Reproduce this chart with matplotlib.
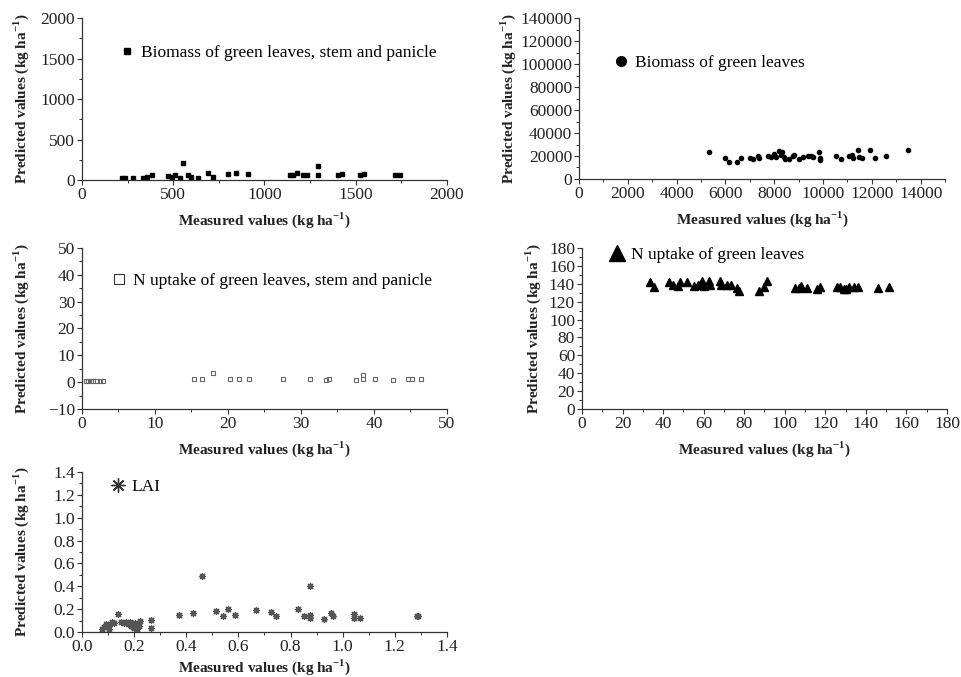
import matplotlib.pyplot as plt
from matplotlib.lines import Line2D
from matplotlib.ticker import MultipleLocator

plt.rcParams['font.family'] = ['Liberation Serif', 'DejaVu Serif']
plt.rcParams['mathtext.fontset'] = 'custom'
plt.rcParams['mathtext.rm'] = 'Liberation Serif'
plt.rcParams['mathtext.bf'] = 'Liberation Serif:bold'

# biomass of green leaves, stem and panicle
bio_all_x = [217, 235, 281, 336, 354, 381, 473, 491, 509, 537, 555, 582, 600, 637, 691, 719,
             802, 844, 911, 1140, 1157, 1180, 1209, 1231, 1291, 1295, 1405, 1423, 1523, 1547, 1715, 1742]
bio_all_y = [29, 29, 21, 29, 41, 58, 50, 41, 58, 29, 206, 66, 41, 29, 82, 41,
             70, 82, 74, 66, 66, 86, 62, 62, 169, 66, 58, 74, 58, 74, 66, 66]

# biomass of green leaves
bio_leaf_x = [5325, 5984, 6149, 6492, 6629, 7014, 7110, 7316, 7357, 7727, 7865, 7975, 8071,
              8208, 8304, 8277, 8387, 8441, 8620, 8757, 8826, 9031, 9196, 9402, 9512, 9580,
              9855, 9882, 9882, 10541, 10720, 11049, 11186, 11227, 11433, 11461, 11598,
              11914, 12120, 12600, 13492]
bio_leaf_y = [23768, 17971, 15072, 14493, 17971, 17971, 17391, 20290, 18551, 19710, 19130,
              22029, 19130, 24348, 23768, 21159, 19130, 17391, 17391, 19710, 20870, 17391,
              19130, 20290, 19710, 19130, 23768, 17971, 16812, 20290, 17391, 19710, 20870,
              17971, 25507, 19130, 17971, 24928, 17971, 20290, 24928]

# N uptake of green leaves, stem and panicle
n_all_x = [0.55, 0.87, 1.19, 1.55, 2.0, 2.46, 2.92, 15.3, 16.4, 17.9, 20.3, 21.5, 22.9, 27.6,
           31.2, 33.4, 33.8, 37.6, 38.5, 38.5, 40.2, 42.6, 44.7, 45.2, 46.4]
n_all_y = [0.6, 0.6, 0.6, 0.6, 0.6, 0.6, 0.6, 1.0, 1.0, 3.4, 1.1, 1.0, 1.1, 1.2,
           1.1, 0.9, 1.0, 0.9, 2.6, 1.0, 1.2, 0.9, 1.0, 1.0, 1.0]

# N uptake of green leaves
n_leaf_x = [33.4, 35.3, 42.7, 44.9, 47.3, 48.5, 51.8, 55.1, 57.0, 58.0, 59.3, 60.0, 62.5, 63.0,
            68.2, 68.6, 71.5, 73.5, 76.4, 77.3, 87.1, 89.9, 91.2, 105.2, 106.9, 108.0, 111.0,
            115.9, 117.5, 125.8, 127.4, 129.0, 130.4, 131.5, 134.0, 136.1, 146.0, 151.2]
n_leaf_y = [141.5, 135.9, 141.5, 138.5, 137.8, 141.5, 141.9, 137.8, 138.2, 138.9, 142.6, 137.8,
            142.6, 138.2, 142.6, 138.2, 138.5, 138.5, 135.2, 132.2, 131.4, 136.3, 142.6, 135.2,
            135.2, 137.0, 135.2, 134.4, 136.3, 136.3, 136.3, 134.4, 134.4, 136.3, 136.3, 136.3,
            135.2, 135.9]

# LAI
lai_x = [0.077, 0.086, 0.093, 0.102, 0.109, 0.115, 0.121, 0.137, 0.150, 0.160, 0.170, 0.176,
         0.183, 0.188, 0.194, 0.201, 0.205, 0.211, 0.217, 0.224, 0.266, 0.266, 0.373, 0.426,
         0.459, 0.515, 0.541, 0.560, 0.587, 0.669, 0.725, 0.746, 0.829, 0.850, 0.876, 0.876,
         0.876, 0.927, 0.957, 0.963, 1.042, 1.042, 1.068, 1.285, 1.288]
lai_y = [0.026, 0.044, 0.067, 0.029, 0.073, 0.085, 0.079, 0.157, 0.090, 0.079, 0.085, 0.073,
         0.090, 0.055, 0.067, 0.038, 0.079, 0.029, 0.055, 0.096, 0.102, 0.035, 0.152, 0.166,
         0.487, 0.181, 0.137, 0.201, 0.152, 0.195, 0.175, 0.137, 0.201, 0.137, 0.402, 0.152,
         0.120, 0.111, 0.166, 0.137, 0.157, 0.120, 0.120, 0.143, 0.143]

ylab = r'Predicted values (kg ha$^{\mathbf{-1}}$)'
xlab = r'Measured values (kg ha$^{\mathbf{-1}}$)'

fig = plt.figure(figsize=(9.61, 6.77), dpi=100)

panels = [
    # rect, x, y, xlim, ylim, xmaj, ymaj, marker style, legend style, label, legend anchor, ylabel x, xlabel pad
    ([0.0853, 0.7341, 0.3798, 0.2393], bio_all_x, bio_all_y, (0, 2000), (0, 2000), 500, 500,
     dict(marker='s', ms=2.6, color='k'), dict(marker='s', ms=5, color='k'),
     'Biomass of green leaves, stem and panicle', (0.1, 0.784), -0.14, 5),
    ([0.6025, 0.7356, 0.3809, 0.2378], bio_leaf_x, bio_leaf_y, (0, 15000), (0, 140000), 2000, 20000,
     dict(marker='o', ms=3.0, color='k'), dict(marker='o', ms=7, color='k'),
     'Biomass of green leaves', (0.09, 0.72), -0.168, 5),
    ([0.0853, 0.3959, 0.3798, 0.2378], n_all_x, n_all_y, (0, 50), (-10, 50), 10, 10,
     dict(marker='s', ms=3.2, mfc='none', mec='#666666', mew=0.8),
     dict(marker='s', ms=6.5, mfc='none', mec='#333333', mew=0.8),
     'N uptake of green leaves, stem and panicle', (0.078, 0.795), -0.14, 5),
    ([0.6056, 0.3959, 0.3798, 0.2378], n_leaf_x, n_leaf_y, (0, 180), (0, 180), 20, 20,
     dict(marker='^', ms=6, color='k'), dict(marker='^', ms=11, color='k'),
     'N uptake of green leaves', (0.072, 0.957), -0.108, 5),
    ([0.0853, 0.0665, 0.3798, 0.2363], lai_x, lai_y, (0, 1.4), (0, 1.4), 0.2, 0.2,
     dict(marker=(8, 2, 0), ms=5, mec='#555555', mew=0.9),
     dict(marker=(8, 2, 0), ms=10, mec='#333333', mew=1.0),
     'LAI', (0.075, 0.906), -0.14, 1.5),
]

for rect, xs, ys, xl, yl, xm, ym, mst, lst, lab, anc, ylx, xpad in panels:
    ax = fig.add_axes(rect)
    ax.plot(xs, ys, ls='none', **mst)
    ax.set_xlim(*xl)
    ax.set_ylim(*yl)
    ax.xaxis.set_major_locator(MultipleLocator(xm))
    ax.xaxis.set_minor_locator(MultipleLocator(xm / 2))
    ax.yaxis.set_major_locator(MultipleLocator(ym))
    ax.yaxis.set_minor_locator(MultipleLocator(ym / 2))
    if xl[1] == 15000:
        ax.set_xticks(range(0, 15000, 2000))
    if xl[1] == 1.4:
        ax.xaxis.set_major_formatter(lambda v, p: f'{v:.1f}')
        ax.yaxis.set_major_formatter(lambda v, p: f'{v:.1f}')
    for s in ['top', 'right']:
        ax.spines[s].set_visible(False)
    for s in ['left', 'bottom']:
        ax.spines[s].set_linewidth(0.9)
        ax.spines[s].set_color('#333333')
    ax.tick_params(which='major', direction='out', length=3.5, width=0.8, labelsize=12.5,
                   colors='#333333', labelcolor='#222222', pad=1.5)
    ax.tick_params(which='minor', direction='out', length=2, width=0.7, colors='#333333')
    ax.set_xlabel(xlab, fontsize=11, fontweight='bold', color='#222222', labelpad=xpad)
    ax.set_ylabel(ylab, fontsize=11, fontweight='bold', color='#222222')
    ax.yaxis.set_label_coords(ylx, 0.5)
    h = Line2D([], [], ls='none', **lst)
    ax.legend([h], [lab], loc='center left', bbox_to_anchor=anc, frameon=False,
              handlelength=1.0, handletextpad=0.3, borderpad=0, borderaxespad=0,
              prop={'size': 12.5})

fig.savefig('out.png', dpi=100)
